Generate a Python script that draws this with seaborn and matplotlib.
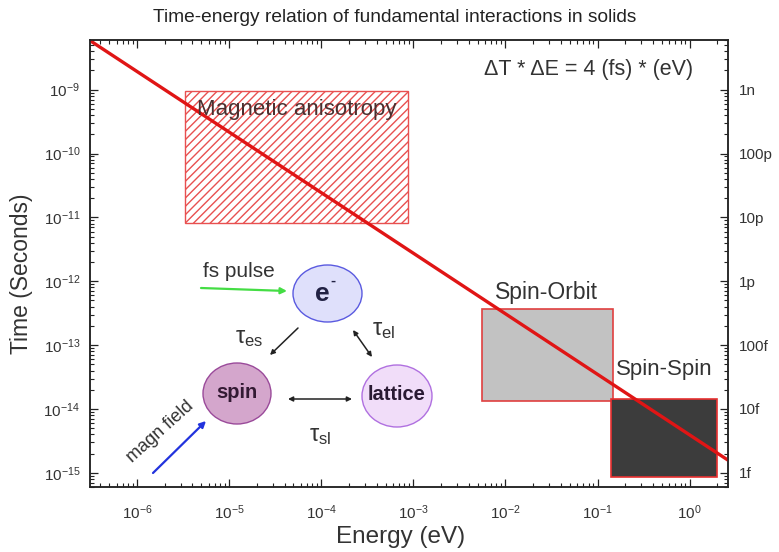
import matplotlib
matplotlib.use("Agg")
import matplotlib.pyplot as plt
import seaborn as sns
import pandas as pd
from matplotlib.patches import Rectangle, Ellipse
from matplotlib.ticker import LogLocator, NullFormatter, FixedLocator, FixedFormatter

sns.set_theme(style="ticks")
plt.rcParams['font.family'] = ['Liberation Sans', 'DejaVu Sans']
plt.rcParams['mathtext.fontset'] = 'custom'
plt.rcParams['mathtext.rm'] = 'Liberation Sans'
plt.rcParams['mathtext.it'] = 'Liberation Sans:italic'
plt.rcParams['mathtext.bf'] = 'Liberation Sans:bold'
plt.rcParams['mathtext.default'] = 'regular'
plt.rcParams['hatch.linewidth'] = 1.0

# ---------------- data ----------------
line_energy = [3.24e-7, 2.61]          # eV
line_time = [5.62e-9, 1.58e-15]        # s   (dT * dE = 4 fs*eV)

regions = ["Magnetic anisotropy", "Spin-Orbit", "Spin-Spin"]
region_e_min = [3.32e-6, 5.57e-3, 0.140]
region_e_max = [8.75e-4, 0.147, 1.98]
region_t_min = [8.05e-12, 1.33e-14, 8.66e-16]
region_t_max = [9.65e-10, 3.64e-13, 1.44e-14]

x_ticks = [1e-6, 1e-5, 1e-4, 1e-3, 1e-2, 1e-1, 1e0]
x_tick_labels = ["10$^{-6}$", "10$^{-5}$", "10$^{-4}$", "10$^{-3}$",
                 "10$^{-2}$", "10$^{-1}$", "10$^{0}$"]
y_ticks = [1e-15, 1e-14, 1e-13, 1e-12, 1e-11, 1e-10, 1e-9]
y_tick_labels = ["10$^{-15}$", "10$^{-14}$", "10$^{-13}$", "10$^{-12}$",
                 "10$^{-11}$", "10$^{-10}$", "10$^{-9}$"]
right_tick_labels = ["1f", "10f", "100f", "1p", "10p", "100p", "1n"]

x_limits = [3.09e-7, 2.61]
y_limits = [6.0e-16, 6.0e-9]

# ---------------- figure ----------------
W, H = 779, 552
fig = plt.figure(figsize=(W / 100, H / 100), dpi=100)
ax = fig.add_axes([90 / W, 1 - 487 / H, 638 / W, 447 / H])
ax.set_xscale('log')
ax.set_yscale('log')

TXT = '#333333'

# regions
styles = [dict(facecolor='white', edgecolor='#e85050', hatch='////', lw=1.0),
          dict(facecolor='#c2c2c2', edgecolor='#e04040', lw=1.2),
          dict(facecolor='#3c3c3c', edgecolor='#e83030', lw=1.2)]
for i, name in enumerate(regions):
    r = Rectangle((region_e_min[i], region_t_min[i]),
                  region_e_max[i] - region_e_min[i],
                  region_t_max[i] - region_t_min[i], zorder=1, **styles[i])
    ax.add_patch(r)

df = pd.DataFrame({"energy": line_energy, "time": line_time})
sns.lineplot(data=df, x="energy", y="time", ax=ax, color='#e01515', lw=2.4,
             zorder=3)

ax.set_xlim(*x_limits)
ax.set_ylim(*y_limits)

# region labels (pixel positions)
def fp(px, py):
    return (px / W, 1 - py / H)

fig.text(*fp(297, 110), regions[0], fontsize=16, color='#4a3030',
         ha='center', va='center', zorder=5)
fig.text(*fp(546, 293), regions[1], fontsize=16.5, color=TXT,
         ha='center', va='center')
fig.text(*fp(664, 370), regions[2], fontsize=16, color=TXT,
         ha='center', va='center')

fig.text(*fp(589, 70), "ΔT * ΔE = 4 (fs) * (eV)", fontsize=15.5, color=TXT,
         ha='center', va='center')

# axes styling
for s in ax.spines.values():
    s.set_linewidth(1.1)
    s.set_color('#222222')
ax.xaxis.set_major_locator(FixedLocator(x_ticks))
ax.xaxis.set_major_formatter(FixedFormatter(x_tick_labels))
ax.xaxis.set_minor_locator(LogLocator(base=10, subs=range(2, 10), numticks=50))
ax.xaxis.set_minor_formatter(NullFormatter())
ax.yaxis.set_major_locator(FixedLocator(y_ticks))
ax.yaxis.set_major_formatter(FixedFormatter(y_tick_labels))
ax.yaxis.set_minor_locator(LogLocator(base=10, subs=range(2, 10), numticks=50))
ax.yaxis.set_minor_formatter(NullFormatter())
ax.tick_params(which='both', direction='in', top=True, right=False,
               colors='#222222', labelcolor=TXT, labelsize=11)
ax.tick_params(which='major', length=6, width=0.9)
ax.tick_params(which='minor', length=3, width=0.8)
ax.tick_params(axis='x', pad=12)
ax.tick_params(axis='y', pad=7)

ax2 = ax.twinx()
ax2.set_yscale('log')
ax2.set_ylim(*y_limits)
ax2.yaxis.set_major_locator(FixedLocator(y_ticks))
ax2.yaxis.set_major_formatter(FixedFormatter(right_tick_labels))
ax2.yaxis.set_minor_locator(LogLocator(base=10, subs=range(2, 10), numticks=50))
ax2.yaxis.set_minor_formatter(NullFormatter())
ax2.tick_params(which='both', direction='in', colors='#222222',
                labelcolor=TXT, labelsize=11, pad=8)
ax2.tick_params(which='major', length=6, width=0.9)
ax2.tick_params(which='minor', length=3, width=0.8)
for s in ax2.spines.values():
    s.set_linewidth(1.1)

ax.set_xlabel("Energy (eV)", fontsize=17.5, color=TXT)
ax.set_ylabel("Time (Seconds)", fontsize=16.5, color=TXT)
ax.xaxis.set_label_coords(0.487, -0.088)
ax.yaxis.set_label_coords(-0.089, 0.476)

fig.text(*fp(395, 17), "Time-energy relation of fundamental interactions in solids",
         fontsize=13.8, color='#222222', ha='center', va='center')

# ---------------- interaction diagram ----------------
def ell(cx, cy, w, h, fc, ec):
    e = Ellipse(fp(cx, cy), w / W, h / H, transform=fig.transFigure,
                facecolor=fc, edgecolor=ec, lw=1.0, zorder=4)
    fig.add_artist(e)

ell(327.5, 293.5, 69, 57, '#dfe0fb', '#5a5ae0')
ell(237, 393.5, 68, 61, '#d4a6cc', '#9a4a9a')
ell(397, 396, 70, 62, '#f1ddf9', '#b070e0')

fig.text(*fp(322, 294), "e", fontsize=19, fontweight='bold', color='#222244',
         ha='center', va='center', zorder=6)
fig.text(*fp(333, 281), "-", fontsize=11, fontweight='bold', color='#222244',
         ha='center', va='center', zorder=6)
fig.text(*fp(237, 392), "spin", fontsize=14.5, fontweight='bold', color='#331a33',
         ha='center', va='center', zorder=6)
fig.text(*fp(397, 395), "lattice", fontsize=14.5, fontweight='bold', color='#2a1a33',
         ha='center', va='center', zorder=6)
fig.text(*fp(239, 271), "fs pulse", fontsize=15, color=TXT, ha='center', va='center')
fig.text(*fp(160, 432), "magn field", fontsize=13, color=TXT, ha='center',
         va='center', rotation=42)
fig.text(*fp(249, 338), r"$\tau_{es}$", fontsize=17, color=TXT, ha='center', va='center')
fig.text(*fp(384, 330), r"$\tau_{el}$", fontsize=17, color=TXT, ha='center', va='center')
fig.text(*fp(320, 436), r"$\tau_{sl}$", fontsize=17, color=TXT, ha='center', va='center')

def arrow(p0, p1, color, style, lw=1.2, ms=8):
    ax.annotate("", xy=(p1[0], H - p1[1]), xytext=(p0[0], H - p0[1]),
                xycoords='figure pixels', textcoords='figure pixels',
                arrowprops=dict(arrowstyle=style, color=color, lw=lw,
                                mutation_scale=ms, shrinkA=0, shrinkB=0),
                annotation_clip=False)

arrow((201, 288), (287, 291), '#44dd44', '-|>', lw=1.6, ms=9)
arrow((153, 473), (206, 421), '#2233dd', '-|>', lw=1.6, ms=9)
arrow((298, 328), (270, 355), '#222222', '-|>', lw=1.1, ms=7)
arrow((353, 330), (372, 357), '#222222', '<|-|>', lw=1.1, ms=7)
arrow((288, 399), (352, 399), '#222222', '<|-|>', lw=1.1, ms=7)

fig.savefig("out.png", dpi=100)
